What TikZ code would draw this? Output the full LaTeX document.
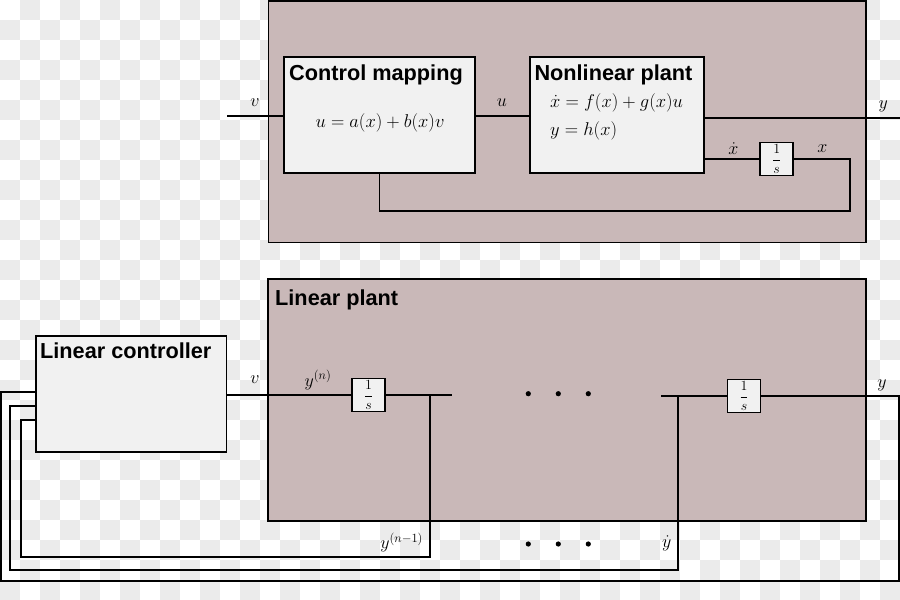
\documentclass[tikz,border=0pt]{standalone}
\usepackage{fix-cm}
\usepackage{fontspec}
\newfontfamily\titlefont{Liberation Sans}
\definecolor{chk}{HTML}{EBEBEB}
\definecolor{plantfill}{HTML}{C9B8B8}
\definecolor{boxfill}{HTML}{F1F1F1}
\tikzset{
  plantbox/.style={draw=black, line width=1.8pt, fill=plantfill, inner sep=0pt},
  blockbox/.style={draw=black, line width=1.8pt, fill=boxfill, inner sep=0pt},
  intbox/.style={draw=black, line width=1.8pt, fill=boxfill, inner sep=0pt, minimum width=33pt, minimum height=33pt, font=\fontsize{14}{17}\selectfont},
  title/.style={anchor=base west, inner sep=0pt, font=\titlefont\bfseries\fontsize{21.7}{26}\selectfont},
  eq/.style={inner sep=0pt, font=\fontsize{18.5}{22}\selectfont},
  lbl/.style={inner sep=0pt, font=\fontsize{18}{22}\selectfont},
  wire/.style={draw=black, line width=1.8pt},
  dotmark/.style={fill=black}
}
\begin{document}
\begin{tikzpicture}[x=1pt,y=-1pt]
\useasboundingbox (0,0) rectangle (900,600);
% checkerboard background
\foreach \i in {0,...,44}{\foreach \j in {0,...,29}{%
  \pgfmathtruncatemacro\k{mod(\i+\j,2)}%
  \ifnum\k=1 \fill[chk] (\i*20,\j*20) rectangle ++(20,20);\fi}}
% plants
\node[plantbox, minimum width=597.5pt, minimum height=241.5pt] (nlp) at (567.3,121.8) {};
\node[plantbox, minimum width=597.4pt, minimum height=242pt] (lp) at (567,400) {};
% blocks
\node[blockbox, minimum width=191pt, minimum height=116pt] (cm) at (379.5,115.3) {};
\node[blockbox, minimum width=174.3pt, minimum height=116pt] (np) at (617.2,115.3) {};
\node[blockbox, minimum width=190.8pt, minimum height=116pt] (lc) at (131,393.7) {};
\node[intbox] (int1) at (776.7,159) {$\displaystyle\frac{1}{s}$};
\node[intbox] (int2) at (368.5,395) {$\displaystyle\frac{1}{s}$};
\node[intbox] (int3) at (744,396) {$\displaystyle\frac{1}{s}$};
% titles
\node[title] (tcm) at (289,80.7) {Control mapping};
\node[title] (tnp) at (534.3,80.7) {Nonlinear plant};
\node[title] (tlp) at (275,305) {Linear plant};
\node[title] (tlc) at (40,358.3) {Linear controller};
% equations
\node[eq, anchor=base] (eqcm) at (380,127) {$u=a(x)+b(x)v$};
\node[eq, anchor=base west] (eqnp1) at (550,107.5) {$\dot{x}=f(x)+g(x)u$};
\node[eq, anchor=base west] (eqnp2) at (550,135.5) {$y=h(x)$};
% coordinates
\coordinate (vin) at (227.3,116);
\coordinate (yout) at (900,118.3);
\coordinate (xr) at (850,159);
\coordinate (xb) at (850,211);
\coordinate (v2end) at (451.7,395);
\coordinate (tapn) at (430,395);
\coordinate (tapnb) at (430,557.3);
\coordinate (in3) at (21,557.3);
\coordinate (in3t) at (21,420);
\coordinate (dstart) at (661,396);
\coordinate (tapd) at (678,396);
\coordinate (tapdb) at (678,570);
\coordinate (in2) at (10,570);
\coordinate (in2t) at (10,405.7);
\coordinate (yr) at (899,396);
\coordinate (yb) at (899,581);
\coordinate (in1) at (1,581);
\coordinate (in1t) at (1,391.7);
% wires top
\draw[wire] (vin) -- (cm.west|-vin);
\draw[wire] (cm.east|-vin) -- (np.west|-vin);
\draw[wire] (np.east|-yout) -- (yout);
\draw[wire] (np.east|-int1) -- (int1.west);
\draw[wire] (int1.east) -- (xr) -- (xb) -| (cm.south);
% wires bottom
\draw[wire] (lc.east|-int2) -- (int2.west);
\draw[wire] (int2.east) -- (v2end);
\draw[wire] (tapn) -- (tapnb) -- (in3) -- (in3t) -- (lc.west|-in3t);
\draw[wire] (dstart) -- (int3.west);
\draw[wire] (int3.east) -- (yr) -- (yb) -- (in1) -- (in1t) -- (lc.west|-in1t);
\draw[wire] (tapd) -- (tapdb) -- (in2) -- (in2t) -- (lc.west|-in2t);
% labels
\node[lbl] (lv1) at (255,103) {$v$};
\node[lbl] (lu) at (502,103) {$u$};
\node[lbl] (ly1) at (883.3,106) {$y$};
\node[lbl] (lxd) at (733.3,149) {$\dot{x}$};
\node[lbl] (lx) at (822.3,149) {$x$};
\node[lbl] (lv2) at (255,380) {$v$};
\node[lbl] (lyn) at (318,380) {$y^{(n)}$};
\node[lbl] (ly2) at (882,385) {$y$};
\node[lbl] (lyn1) at (401.7,542.7) {$y^{(n-1)}$};
\node[lbl] (lyd) at (666.7,543.3) {$\dot{y}$};
% dots
\foreach \xx/\nm in {528.3/a,558.3/b,588.3/c}{
  \fill[dotmark] (\xx,393.7) circle (2.6pt);
  \fill[dotmark] (\xx,544) circle (2.6pt);
}
\end{tikzpicture}
\end{document}
